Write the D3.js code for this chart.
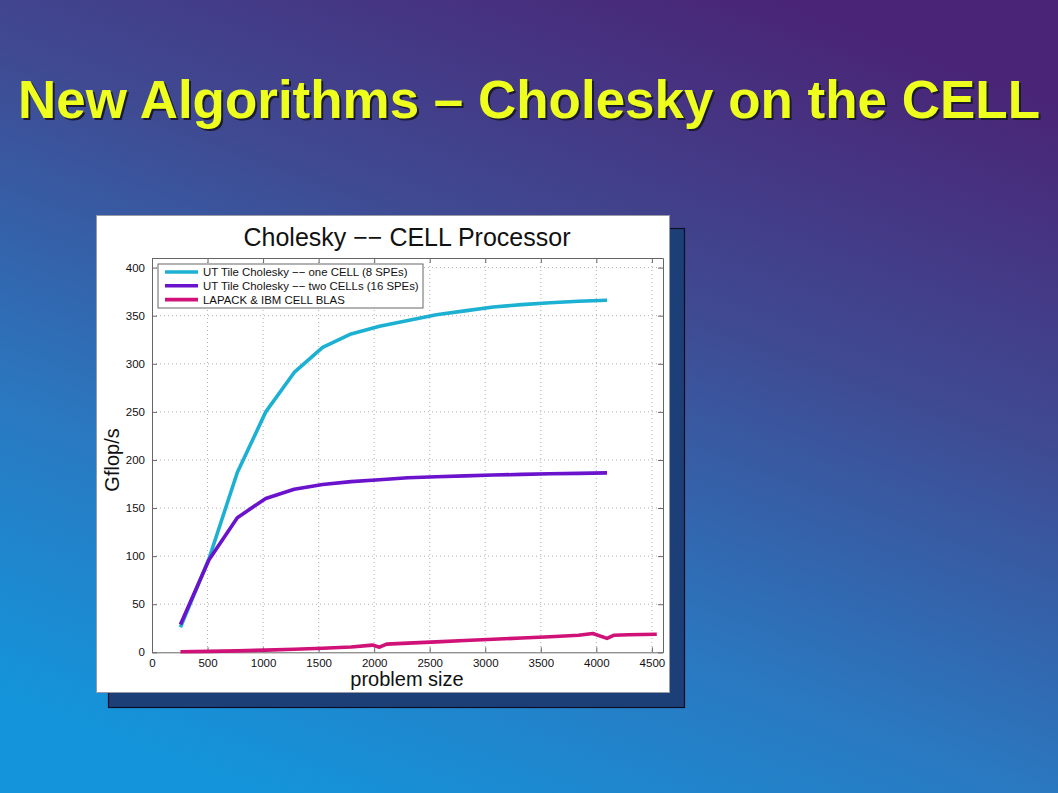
<!DOCTYPE html>
<html><head><meta charset="utf-8">
<script src="https://cdn.jsdelivr.net/npm/d3@7/dist/d3.min.js"></script>
<style>html,body{margin:0;padding:0;overflow:hidden;}svg{display:block;}</style>
</head><body>
<script>
const slideTitle = "New Algorithms \u2013 Cholesky on the CELL";
const chartTitle = "Cholesky \u2212\u2212 CELL Processor";
const xLabel = "problem size";
const yLabel = "Gflop/s";
const seriesNames = ["UT Tile Cholesky \u2212\u2212 one CELL (8 SPEs)", "UT Tile Cholesky \u2212\u2212 two CELLs (16 SPEs)", "LAPACK & IBM CELL BLAS"];
const seriesColors = ["#1cb0d2", "#6a12cc", "#cf1178"];
const tileSizes = [256, 512, 768, 1024, 1280, 1536, 1792, 2048, 2304, 2560, 2816, 3072, 3328, 3584, 3840, 4096];
const oneCell = [26, 97, 187, 250, 291, 317, 331, 339, 345, 351, 355, 359, 361.5, 363.5, 365, 366];
const twoCells = [29, 96, 140, 160, 169.5, 174.5, 177.5, 179.5, 181.5, 182.5, 183.5, 184.3, 185, 185.6, 186.1, 186.6];
const lapackSizes = [256, 512, 768, 1024, 1280, 1536, 1792, 1984, 2048, 2112, 2304, 2560, 2816, 3072, 3328, 3584, 3840, 3968, 4096, 4160, 4288, 4544];
const lapack = [0.5, 1, 1.5, 2.3, 3.2, 4.2, 5.5, 7.5, 5.3, 8.5, 9.5, 10.8, 12.2, 13.6, 14.8, 16.2, 17.8, 19.5, 14.5, 17.8, 18.3, 18.8];
const xTicks = [0, 500, 1000, 1500, 2000, 2500, 3000, 3500, 4000, 4500];
const yTicks = [0, 50, 100, 150, 200, 250, 300, 350, 400];

const W = 1058, H = 793;
const svg = d3.select("body").append("svg").attr("width", W).attr("height", H);
const defs = svg.append("defs");
const g1 = defs.append("linearGradient").attr("id", "bg").attr("x1", "0.75").attr("y1", "0").attr("x2", "0.25").attr("y2", "1");
g1.append("stop").attr("offset", "0").attr("stop-color", "#4a2476");
g1.append("stop").attr("offset", "0.35").attr("stop-color", "#3f4a92");
g1.append("stop").attr("offset", "0.7").attr("stop-color", "#2a78c0");
g1.append("stop").attr("offset", "1").attr("stop-color", "#1494da");
svg.append("rect").attr("width", W).attr("height", H).attr("fill", "url(#bg)");

// slide title
const tt = svg.append("g");
tt.append("text").attr("x", 20).attr("y", 120).text(slideTitle)
  .attr("font-family", "Liberation Sans, Arial, sans-serif").attr("font-weight", "bold").attr("font-size", 53)
  .attr("fill", "#1a1a30").attr("textLength", 1022).attr("lengthAdjust", "spacingAndGlyphs");
tt.append("text").attr("x", 18).attr("y", 118).text(slideTitle)
  .attr("font-family", "Liberation Sans, Arial, sans-serif").attr("font-weight", "bold").attr("font-size", 53)
  .attr("fill", "#eeff1e").attr("textLength", 1022).attr("lengthAdjust", "spacingAndGlyphs");

// panels
svg.append("rect").attr("x", 108.5).attr("y", 228.5).attr("width", 576).attr("height", 479)
  .attr("fill", "#1d3f78").attr("stroke", "#0a0f25").attr("stroke-width", 1.2);
svg.append("rect").attr("x", 96.5).attr("y", 215.5).attr("width", 573).attr("height", 477)
  .attr("fill", "#ffffff").attr("stroke", "#9a9aa6").attr("stroke-width", 1);

const L = 152, R = 663, T = 258, B = 652.3;
const x = d3.scaleLinear().domain([0, 4600]).range([L, R]);
const y = d3.scaleLinear().domain([0, 410]).range([B, T]);
const font = "Liberation Sans, Arial, Helvetica, sans-serif";

// grid
const grid = svg.append("g");
xTicks.forEach(v => { if (v > 0) grid.append("line").attr("x1", x(v)).attr("x2", x(v)).attr("y1", T).attr("y2", B)
  .attr("stroke", "#9a9a9a").attr("stroke-width", 0.8).attr("stroke-dasharray", "1,3"); });
yTicks.forEach(v => { if (v > 0) grid.append("line").attr("x1", L).attr("x2", R).attr("y1", y(v)).attr("y2", y(v))
  .attr("stroke", "#9a9a9a").attr("stroke-width", 0.8).attr("stroke-dasharray", "1,3"); });

// axes
const axB = svg.append("g").attr("transform", `translate(0,${B})`)
  .call(d3.axisBottom(x).tickValues(xTicks).tickFormat(d3.format("d")).tickSize(-5).tickPadding(7).tickSizeOuter(0));
const axL = svg.append("g").attr("transform", `translate(${L},0)`)
  .call(d3.axisLeft(y).tickValues(yTicks).tickFormat(d3.format("d")).tickSize(-5).tickPadding(7).tickSizeOuter(0));
const axT = svg.append("g").attr("transform", `translate(0,${T})`)
  .call(d3.axisTop(x).tickValues(xTicks).tickSize(-5).tickFormat("").tickSizeOuter(0));
const axR = svg.append("g").attr("transform", `translate(${R},0)`)
  .call(d3.axisRight(y).tickValues(yTicks).tickSize(-5).tickFormat("").tickSizeOuter(0));
[axB, axL, axT, axR].forEach(a => {
  a.selectAll("path").attr("stroke", "#666").attr("stroke-width", 1);
  a.selectAll("line").attr("stroke", "#666");
  a.selectAll("text").attr("font-family", font).attr("font-size", 11.5).attr("fill", "#111");
});

// lines
const line = d3.line().x(d => x(d[0])).y(d => y(d[1]));
const data = [
  tileSizes.map((s, i) => [s, oneCell[i]]),
  tileSizes.map((s, i) => [s, twoCells[i]]),
  lapackSizes.map((s, i) => [s, lapack[i]])
];
[2, 0, 1].forEach(k => {
  svg.append("path").datum(data[k]).attr("d", line).attr("fill", "none")
    .attr("stroke", seriesColors[k]).attr("stroke-width", 3.6).attr("stroke-linejoin", "round");
});

// texts
svg.append("text").attr("x", 407).attr("y", 246).attr("text-anchor", "middle").text(chartTitle)
  .attr("font-family", font).attr("font-size", 25).attr("fill", "#111");
svg.append("text").attr("x", 407).attr("y", 686).attr("text-anchor", "middle").text(xLabel)
  .attr("font-family", font).attr("font-size", 20).attr("fill", "#111");
svg.append("text").attr("transform", "translate(119,460) rotate(-90)").attr("text-anchor", "middle").text(yLabel)
  .attr("font-family", font).attr("font-size", 20).attr("fill", "#111");

// legend
const lg = svg.append("g");
lg.append("rect").attr("x", 158).attr("y", 264).attr("width", 265).attr("height", 44)
  .attr("fill", "#fff").attr("stroke", "#666").attr("stroke-width", 1);
seriesNames.forEach((n, i) => {
  const yy = 272 + i * 13.8;
  lg.append("line").attr("x1", 165).attr("x2", 198).attr("y1", yy).attr("y2", yy)
    .attr("stroke", seriesColors[i]).attr("stroke-width", 3.6);
  lg.append("text").attr("x", 203).attr("y", yy + 4).text(n)
    .attr("font-family", font).attr("font-size", 11.4).attr("fill", "#111");
});
</script>
</body></html>
